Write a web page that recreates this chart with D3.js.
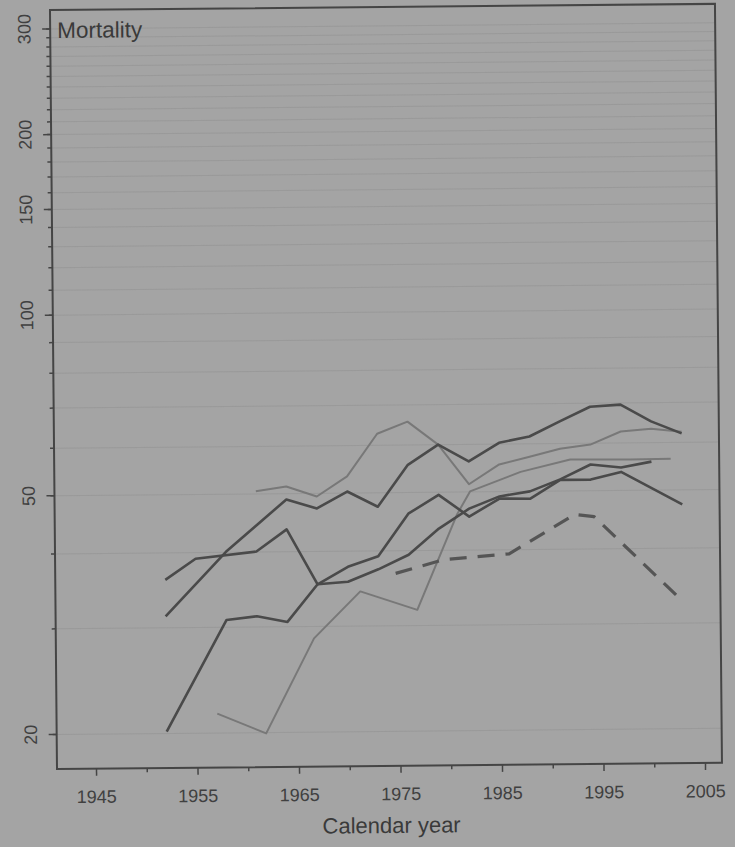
<!DOCTYPE html>
<html>
<head>
<meta charset="utf-8">
<script src="https://cdn.jsdelivr.net/npm/d3@7"></script>
<style>
  body { margin: 0; background: #a4a4a4; }
  svg { display: block; font-family: "Liberation Sans", Arial, sans-serif; }
</style>
</head>
<body>
<div id="chart"></div>
<script>
// values (mortality per year, log scale)
const yearsDarkTop = [1952, 1958, 1964, 1967, 1970, 1973, 1976, 1979, 1982, 1985, 1988, 1991, 1994, 1997, 2000, 2003];
const mortDarkTop  = [31.3, 40.0, 48.8, 47.1, 50.2, 47.3, 55.5, 59.9, 56.1, 60.2, 61.6, 65.2, 68.9, 69.4, 65.0, 62.0];

const yearsDarkMid = [1952, 1955, 1961, 1964, 1967, 1970, 1973, 1976, 1979, 1982, 1985, 1988, 1991, 1994, 1997, 2003];
const mortDarkMid  = [36.0, 39.0, 40.0, 43.5, 35.2, 37.6, 39.1, 46.0, 49.4, 45.4, 48.6, 48.5, 52.1, 52.1, 53.6, 47.2];

const yearsDarkLow = [1952, 1958, 1961, 1964, 1967, 1970, 1973, 1976, 1979, 1982, 1985, 1988, 1991, 1994, 1997, 2000];
const mortDarkLow  = [20.1, 30.8, 31.2, 30.5, 35.2, 35.5, 37.2, 39.3, 43.4, 46.8, 49.0, 49.9, 52.2, 55.2, 54.5, 55.7];

const yearsLightTop = [1961, 1964, 1967, 1970, 1973, 1976, 1979, 1982, 1985, 1988, 1991, 1994, 1997, 2000, 2003];
const mortLightTop  = [50.4, 51.3, 49.3, 53.2, 62.6, 65.5, 59.9, 51.4, 55.4, 57.0, 58.7, 59.6, 62.6, 63.2, 62.4];

const yearsLightLow = [1957, 1961.8, 1966.6, 1971.2, 1976.8, 1980.8, 1982.1, 1987.1, 1992, 1997.9, 2001.9];
const mortLightLow  = [21.5, 19.9, 28.6, 34.2, 31.8, 45.8, 50.0, 53.8, 56.3, 56.2, 56.3];

const yearsDashed = [1974.7, 1979.4, 1985.9, 1992.4, 1994.3, 2003];
const mortDashed  = [36.6, 38.5, 39.3, 45.6, 45.2, 32.5];

// tick labels
const xTickYears = [1945, 1955, 1965, 1975, 1985, 1995, 2005];
const xMinorYears = [1950, 1960, 1970, 1980, 1990, 2000];
const yTickValues = [20, 50, 100, 150, 200, 300];
const yMinorValues = d3.range(20, 301, 10);

const yLabel = "Mortality";
const xLabel = "Calendar year";

((() => {

  // sets the size of the page and the frame of the plot
  let width = 735,
    height = 847,
    frame = { left: 57, top: 10, right: 722, bottom: 769 };

  let svg = d3.select('#chart')
    .append('svg')
      .attr('width', width)
      .attr('height', height);

  // the printed page was photographed slightly tilted
  let g = svg.append('g')
    .attr('transform', 'rotate(-0.53,' + frame.left + ',' + frame.bottom + ')');

  // scales
  let x = d3.scaleLinear()
    .domain([1945, 2005])
    .range([96, 705]);

  let y = d3.scaleLog()
    .domain([20, 300])
    .range([734, 28.4]);

  // faint horizontal grid at every minor tick
  g.append('g')
    .attr('transform', 'translate(' + frame.left + ',0)')
    .call(d3.axisLeft(y).tickValues(yMinorValues).tickSize(-(frame.right - frame.left)).tickFormat(''))
    .call(a => a.select('.domain').remove())
    .selectAll('line')
      .attr('stroke', '#8f8f8f')
      .attr('stroke-opacity', 0.5)
      .attr('stroke-width', 1);

  // series
  let series = [
    { years: yearsLightTop, vals: mortLightTop, color: '#787878', w: 2, dash: null },
    { years: yearsLightLow, vals: mortLightLow, color: '#787878', w: 2, dash: null },
    { years: yearsDarkTop, vals: mortDarkTop, color: '#4a4a4a', w: 2.6, dash: null },
    { years: yearsDarkMid, vals: mortDarkMid, color: '#4a4a4a', w: 2.6, dash: null },
    { years: yearsDarkLow, vals: mortDarkLow, color: '#4a4a4a', w: 2.6, dash: null },
    { years: yearsDashed, vals: mortDashed, color: '#555', w: 3.2, dash: '17,11' }
  ];

  let line = d3.line()
    .x(d => x(d[0]))
    .y(d => y(d[1]));

  g.selectAll('path.series')
    .data(series)
    .enter()
    .append('path')
      .attr('class', 'series')
      .attr('d', d => line(d.years.map((yr, i) => [yr, d.vals[i]])))
      .attr('fill', 'none')
      .attr('stroke', d => d.color)
      .attr('stroke-width', d => d.w)
      .attr('stroke-linejoin', 'round')
      .attr('stroke-dasharray', d => d.dash);

  // frame round the plot
  g.append('rect')
    .attr('x', frame.left)
    .attr('y', frame.top)
    .attr('width', frame.right - frame.left)
    .attr('height', frame.bottom - frame.top)
    .attr('fill', 'none')
    .attr('stroke', '#454545')
    .attr('stroke-width', 2);

  // y axis, minor then major ticks
  g.append('g')
    .attr('transform', 'translate(' + frame.left + ',0)')
    .call(d3.axisLeft(y).tickValues(yMinorValues).tickSize(4).tickFormat(''))
    .call(a => a.select('.domain').remove())
    .selectAll('line')
      .attr('stroke', '#454545')
      .attr('stroke-width', 1.5);

  let yAxis = g.append('g')
    .attr('transform', 'translate(' + frame.left + ',0)')
    .call(d3.axisLeft(y).tickValues(yTickValues).tickSize(8).tickFormat(d3.format('d')));

  yAxis.select('.domain').remove();
  yAxis.selectAll('line')
    .attr('stroke', '#454545')
    .attr('stroke-width', 1.5);
  yAxis.selectAll('text')
    .attr('transform', 'rotate(-90)')
    .attr('x', 0)
    .attr('y', -26)
    .attr('dy', '0.35em')
    .attr('text-anchor', 'middle')
    .attr('fill', '#404040')
    .style('font-size', '18px');

  // x axis
  g.append('g')
    .attr('transform', 'translate(0,' + frame.bottom + ')')
    .call(d3.axisBottom(x).tickValues(xMinorYears).tickSize(4).tickFormat(''))
    .call(a => a.select('.domain').remove())
    .selectAll('line')
      .attr('stroke', '#454545')
      .attr('stroke-width', 1.5);

  let xAxis = g.append('g')
    .attr('transform', 'translate(0,' + frame.bottom + ')')
    .call(d3.axisBottom(x).tickValues(xTickYears).tickSize(7).tickFormat(d3.format('d')));

  xAxis.select('.domain').remove();
  xAxis.selectAll('line')
    .attr('stroke', '#454545')
    .attr('stroke-width', 1.5);
  xAxis.selectAll('text')
    .attr('y', 28)
    .attr('dy', '0.35em')
    .attr('fill', '#404040')
    .style('font-size', '18px');

  // titles
  g.append('text')
    .attr('x', 64)
    .attr('y', 38)
    .attr('fill', '#3a3a3a')
    .style('font-size', '22.5px')
    .text(yLabel);

  g.append('text')
    .attr('x', 391)
    .attr('y', 836)
    .attr('text-anchor', 'middle')
    .attr('fill', '#3a3a3a')
    .style('font-size', '22px')
    .text(xLabel);

})());
</script>
</body>
</html>
